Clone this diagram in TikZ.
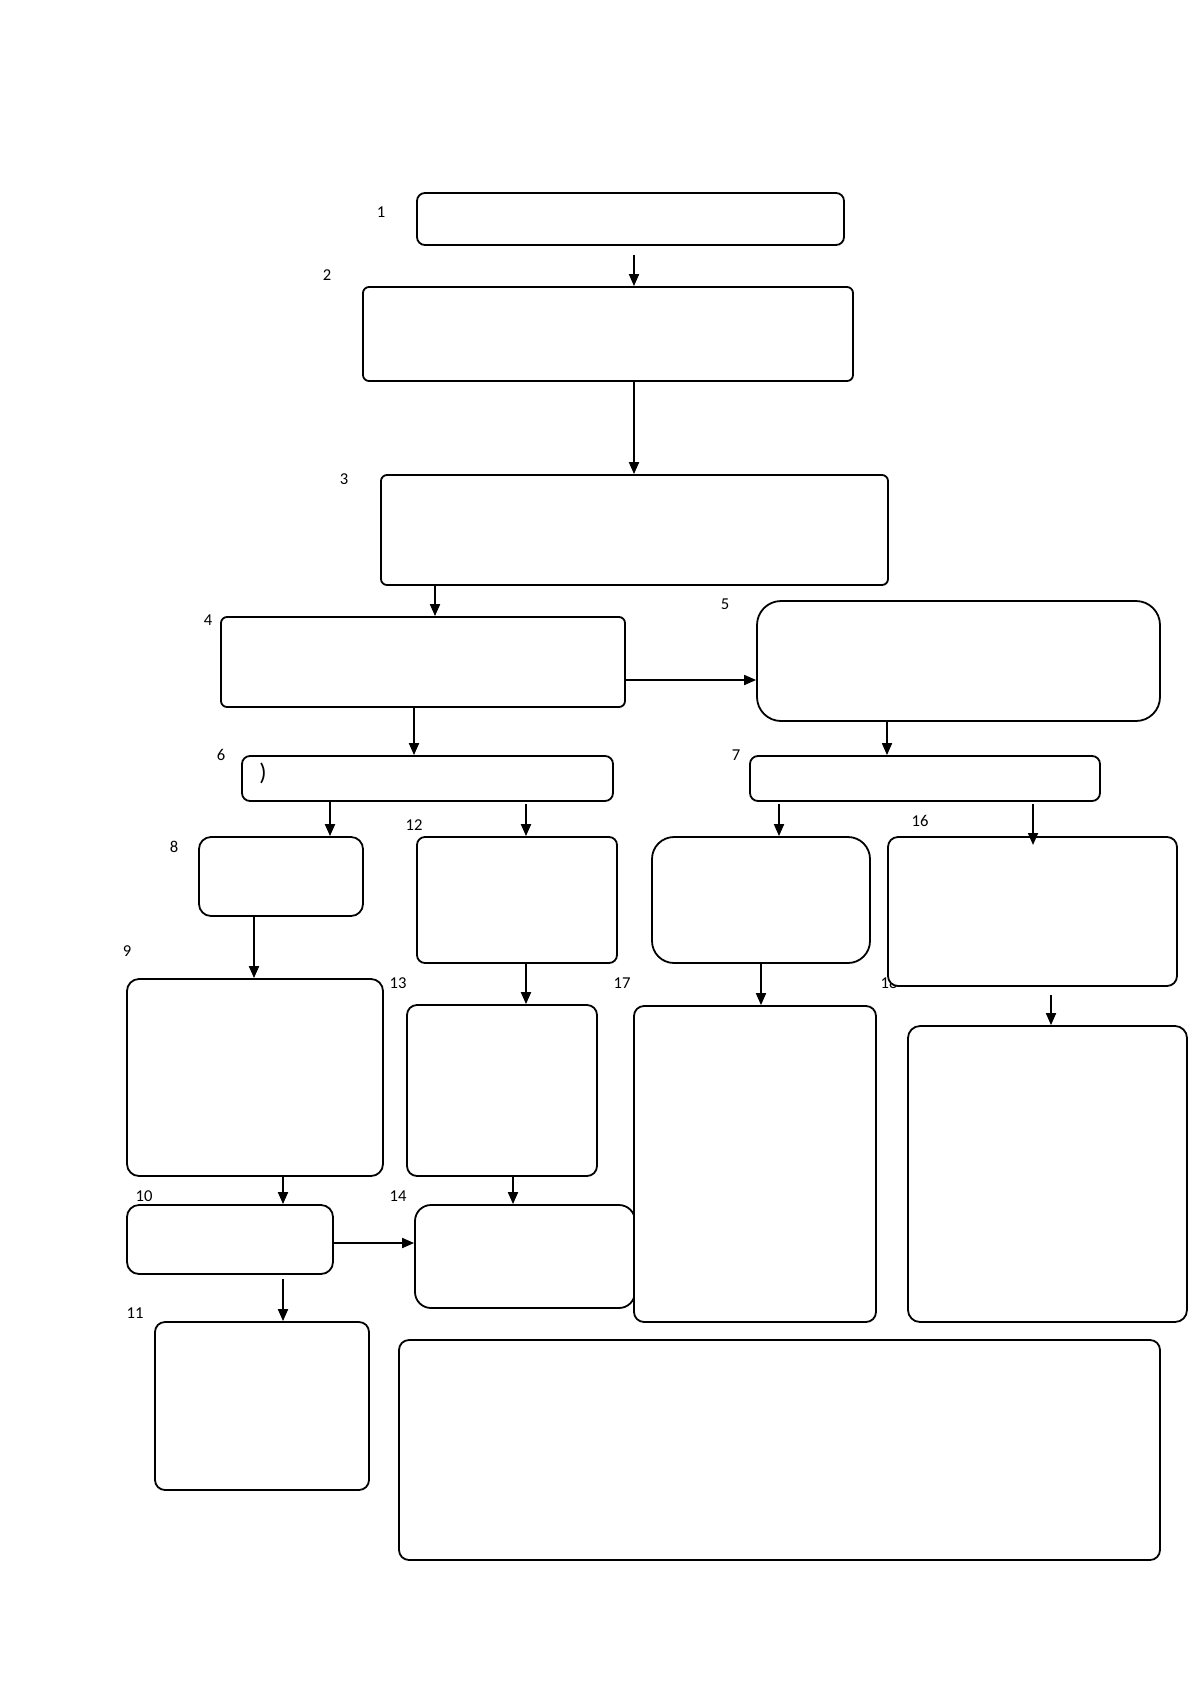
\documentclass[tikz,border=0pt]{standalone}
\usepackage{fontspec}
\setmainfont{Carlito}
\usepackage{tikz}
\usetikzlibrary{arrows.meta}

\begin{document}
\begin{tikzpicture}[x=0.5pt, y=-0.5pt, line width=0.9pt,
  box/.style={draw=black, fill=white, inner sep=0pt, rounded corners=#1},
  box/.default=4pt,
  num/.style={inner sep=0pt, font=\fontsize{8.3}{10}\selectfont},
  arr/.style={-{Triangle[length=6pt,width=5pt]}}]
\useasboundingbox (0,0) rectangle (1200,1698);
% top chain
\node[box=4pt, minimum width=213.5pt, minimum height=26pt] (n1) at (630.5,219) {};
\node[box=3pt, minimum width=245pt, minimum height=47pt] (n2) at (608,334) {};
\node[box=3pt, minimum width=253.5pt, minimum height=55pt] (n3) at (634.5,530) {};
\node[box=3pt, minimum width=202pt, minimum height=45pt] (n4) at (423,662) {};
\node[box=12pt, minimum width=201.5pt, minimum height=60pt] (n5) at (958.5,661) {};
\node[box=4pt, minimum width=185.5pt, minimum height=22.5pt] (n6) at (427.5,778.5) {};
\node[box=4pt, minimum width=175pt, minimum height=22.5pt] (n7) at (925,778.5) {};
\node[inner sep=0pt, font=\fontsize{12}{14}\selectfont] (p6) at (263,773) {)};
% left branch
\node[box=6pt, minimum width=82pt, minimum height=39.5pt] (n8) at (281,876.5) {};
\node[box=6pt, minimum width=128pt, minimum height=98.5pt] (n9) at (255,1077.5) {};
\node[box=6pt, minimum width=103pt, minimum height=34.5pt] (n10) at (230,1239.5) {};
\node[box=5pt, minimum width=107pt, minimum height=84pt] (n11) at (262,1406) {};
% middle branch
\node[box=4pt, minimum width=100pt, minimum height=63pt] (n12) at (517,900) {};
\node[box=5pt, minimum width=95pt, minimum height=85.5pt] (n13) at (502,1090.5) {};
\node[box=8pt, minimum width=110pt, minimum height=51.5pt] (n14) at (525,1256.5) {};
% right branch
\node[num] (l18) at (889,983) {18};
\node[box=11pt, minimum width=109pt, minimum height=63pt] (n15) at (761,900) {};
\node[box=5pt, minimum width=144.5pt, minimum height=74.5pt] (n16) at (1032.5,911.5) {};
\node[box=5pt, minimum width=121pt, minimum height=158pt] (n17) at (755,1164) {};
\node[box=6pt, minimum width=139.5pt, minimum height=148pt] (n18) at (1047.5,1174) {};
\node[box=5pt, minimum width=380.5pt, minimum height=110pt] (n19) at (779.5,1450) {};

% numbers
\node[num] (l1) at (381,212) {1};
\node[num] (l2) at (327,275) {2};
\node[num] (l3) at (344,479) {3};
\node[num] (l4) at (208,620) {4};
\node[num] (l5) at (725,604) {5};
\node[num] (l6) at (221,755) {6};
\node[num] (l7) at (736,755) {7};
\node[num] (l8) at (174,847) {8};
\node[num] (l9) at (127,951) {9};
\node[num] (l10) at (144,1196) {10};
\node[num] (l11) at (135,1313) {11};
\node[num] (l12) at (414,825) {12};
\node[num] (l13) at (398,983) {13};
\node[num] (l14) at (398,1196) {14};
\node[num] (l16) at (920,821) {16};
\node[num] (l17) at (622,983) {17};

% loose arrow ends
\coordinate (s1) at (634,255);
\coordinate (s12) at (526,804);
\coordinate (s15) at (779,804);
\coordinate (s16) at (1033,804);
\coordinate (e16) at (1033,845);
\coordinate (s18) at (1051,995);
\coordinate (s11) at (283,1279);

% arrows
\draw[arr] (s1) -- (s1 |- n2.north);
\draw[arr] (n2.south -| 634,0) -- (n3.north -| 634,0);
\draw[arr] (n3.south -| 435,0) -- (n4.north -| 435,0);
\draw[arr] (n4.east |- 0,680) -- (n5.west |- 0,680);
\draw[arr] (n4.south -| 414,0) -- (n6.north -| 414,0);
\draw[arr] (n5.south -| 887,0) -- (n7.north -| 887,0);
\draw[arr] (n6.south -| 330,0) -- (n8.north -| 330,0);
\draw[arr] (s12) -- (s12 |- n12.north);
\draw[arr] (s15) -- (s15 |- n15.north);
\draw[arr] (s16) -- (e16);
\draw[arr] (n8.south -| 254,0) -- (n9.north -| 254,0);
\draw[arr] (n12.south -| 526,0) -- (n13.north -| 526,0);
\draw[arr] (n15.south) -- (n15.south |- n17.north);
\draw[arr] (s18) -- (s18 |- n18.north);
\draw[arr] (n9.south -| 283,0) -- (n10.north -| 283,0);
\draw[arr] (n13.south -| 513,0) -- (n14.north -| 513,0);
\draw[arr] (n10.east |- 0,1243) -- (n14.west |- 0,1243);
\draw[arr] (s11) -- (s11 |- n11.north);
\end{tikzpicture}
\end{document}
